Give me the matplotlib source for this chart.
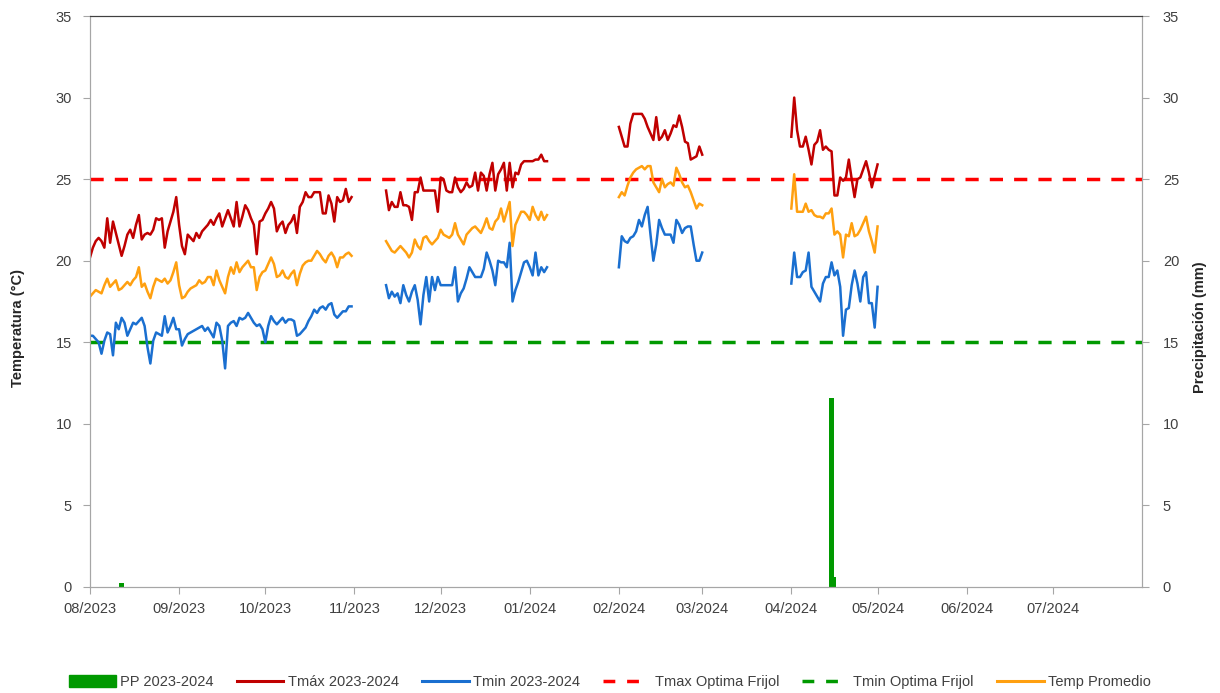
import pandas as pd
import matplotlib
matplotlib.use("Agg")
import matplotlib.pyplot as plt
import matplotlib.dates as mdates
from matplotlib.patches import Patch
from matplotlib.lines import Line2D

plt.rcParams['font.family'] = ['Liberation Sans', 'DejaVu Sans']

# start dates of each block of daily records
seg_starts = ['2023-08-01', '2023-11-12', '2024-02-01', '2024-04-01']

tmax1 = [20.2, 20.8, 21.2, 21.4, 21.2, 20.8, 22.6, 21.1, 22.4, 21.7, 21.0, 20.3, 20.9, 21.6, 21.9, 21.4,
         22.2, 22.8, 21.3, 21.6, 21.7, 21.6, 21.9, 22.6, 22.5, 22.6, 20.8, 21.8, 22.4, 23.0, 23.9, 22.2,
         20.9, 20.4, 21.6, 21.4, 21.2, 21.7, 21.4, 21.8, 22.0, 22.2, 22.5, 22.2, 22.6, 22.9, 22.1, 22.6,
         23.1, 22.6, 22.1, 23.6, 22.1, 22.7, 23.4, 23.1, 22.6, 22.2, 20.4, 22.4, 22.5, 22.9, 23.2, 23.6,
         23.2, 21.8, 22.2, 22.4, 21.7, 22.2, 22.4, 22.8, 21.7, 23.3, 23.6, 24.2, 23.9, 23.9, 24.2, 24.2,
         24.2, 22.9, 22.9, 24.0, 23.5, 22.4, 23.9, 23.6, 23.7, 24.4, 23.6, 23.9]
tprom1 = [17.8, 18.0, 18.2, 18.1, 18.0, 18.5, 18.9, 18.4, 18.6, 18.8, 18.2, 18.3, 18.5, 18.7, 18.5, 18.8,
          19.0, 19.6, 18.4, 18.6, 18.1, 17.7, 18.4, 18.9, 18.8, 18.7, 18.9, 18.6, 18.8, 19.3, 19.9, 18.5,
          17.7, 17.8, 18.1, 18.3, 18.4, 18.5, 18.8, 18.6, 18.7, 19.0, 19.0, 18.5, 19.4, 18.8, 18.4, 18.0,
          19.0, 19.6, 19.2, 19.9, 19.3, 19.6, 19.8, 20.0, 19.6, 19.6, 18.2, 19.0, 19.3, 19.4, 19.8, 20.2,
          19.8, 19.0, 19.1, 19.4, 19.0, 18.9, 19.2, 19.4, 18.5, 19.2, 19.7, 19.9, 20.0, 20.0, 20.3, 20.6,
          20.4, 20.1, 19.9, 20.3, 20.5, 20.2, 19.6, 20.2, 20.2, 20.4, 20.5, 20.3]
tmin1 = [15.4, 15.4, 15.2, 15.0, 14.3, 15.1, 15.6, 15.5, 14.2, 16.2, 15.8, 16.5, 16.2, 15.4, 15.8, 16.2,
         16.1, 16.3, 16.5, 16.0, 14.7, 13.7, 15.1, 15.6, 15.5, 15.4, 16.6, 15.6, 16.0, 16.5, 15.8, 15.8,
         14.8, 15.2, 15.5, 15.6, 15.7, 15.8, 15.9, 16.0, 15.7, 15.9, 15.6, 15.3, 16.2, 16.0, 15.1, 13.4,
         16.0, 16.2, 16.3, 16.0, 16.5, 16.4, 16.5, 16.8, 16.5, 16.2, 16.0, 16.1, 15.8, 15.0, 16.0, 16.6,
         16.3, 16.1, 16.3, 16.5, 16.2, 16.4, 16.4, 16.3, 15.4, 15.5, 15.7, 15.9, 16.3, 16.6, 17.0, 16.8,
         17.1, 17.2, 17.0, 17.3, 17.4, 16.7, 16.5, 16.7, 16.9, 16.9, 17.2, 17.2]

tmax2 = [24.3, 23.1, 23.6, 23.3, 23.3, 24.2, 23.4, 23.4, 23.3, 22.5, 24.2, 24.2, 25.1, 24.3, 24.3, 24.3,
         24.3, 24.3, 23.0, 25.1, 25.0, 24.3, 24.2, 24.2, 25.1, 24.5, 24.2, 24.4, 24.8, 24.5, 24.6, 25.4,
         24.3, 25.4, 25.2, 24.3, 25.3, 26.0, 24.3, 25.3, 25.6, 26.0, 24.3, 26.0, 24.5, 25.4, 25.3, 25.9,
         26.1, 26.1, 26.1, 26.1, 26.2, 26.2, 26.5, 26.1, 26.1]
tprom2 = [21.2, 20.9, 20.6, 20.5, 20.7, 20.9, 20.7, 20.5, 20.2, 20.5, 21.3, 20.9, 20.7, 21.4, 21.5, 21.2,
          21.0, 21.2, 21.4, 21.9, 21.6, 21.5, 21.4, 21.6, 22.3, 21.6, 21.3, 21.0, 21.6, 21.8, 22.0, 22.1,
          21.9, 21.7, 22.1, 22.6, 22.0, 21.9, 22.4, 22.6, 23.2, 22.4, 23.0, 23.6, 20.9, 22.2, 22.6, 23.0,
          23.0, 22.8, 22.5, 23.3, 22.8, 22.5, 23.0, 22.5, 22.8]
tmin2 = [18.5, 17.7, 18.1, 17.8, 18.0, 17.4, 18.5, 17.9, 17.5, 18.1, 18.5, 17.6, 16.1, 17.9, 19.0, 17.5,
         19.0, 18.2, 19.0, 18.5, 18.5, 18.5, 18.5, 18.5, 19.6, 17.5, 18.0, 18.3, 18.9, 19.6, 19.3, 19.0,
         19.0, 19.0, 19.5, 20.5, 20.0, 19.4, 18.5, 20.0, 19.9, 19.9, 19.6, 21.1, 17.5, 18.2, 18.7, 19.3,
         19.9, 20.0, 19.6, 19.1, 20.5, 19.1, 19.6, 19.3, 19.6]

tmax3 = [28.2, 27.6, 27.0, 27.0, 28.4, 29.0, 29.0, 29.0, 29.0, 28.7, 28.2, 27.8, 27.4, 28.8, 27.4, 27.6,
         28.0, 27.4, 27.8, 28.3, 28.2, 28.9, 28.2, 27.3, 27.2, 26.2, 26.3, 26.4, 27.0, 26.5]
tprom3 = [23.9, 24.2, 24.0, 24.6, 25.1, 25.4, 25.6, 25.7, 25.8, 25.6, 25.8, 25.8, 24.8, 24.5, 24.2, 25.0,
          24.5, 24.7, 24.8, 24.6, 25.7, 25.3, 24.8, 24.5, 24.6, 24.2, 23.7, 23.2, 23.5, 23.4]
tmin3 = [19.6, 21.5, 21.2, 21.1, 21.4, 21.5, 21.8, 22.5, 22.1, 22.8, 23.3, 21.6, 20.0, 21.0, 22.5, 22.0,
         21.6, 21.6, 21.6, 21.1, 22.5, 22.2, 21.7, 22.0, 22.1, 22.1, 21.0, 20.0, 20.0, 20.5]

tmax4 = [27.6, 30.0, 28.0, 27.0, 27.0, 27.6, 26.8, 25.9, 27.1, 27.3, 28.0, 26.8, 27.0, 26.8, 26.7, 24.0,
         24.0, 25.1, 24.9, 25.1, 26.2, 25.0, 23.9, 25.0, 25.1, 25.6, 26.1, 25.4, 24.5, 25.2, 25.9]
tprom4 = [23.2, 25.3, 23.0, 23.0, 23.0, 23.5, 23.0, 23.1, 22.8, 22.7, 22.7, 22.6, 22.9, 22.9, 23.2, 21.6,
          21.8, 21.6, 20.2, 21.6, 21.5, 22.3, 21.5, 21.6, 21.9, 22.3, 22.7, 21.8, 21.2, 20.5, 22.1]
tmin4 = [18.6, 20.5, 19.0, 19.0, 19.3, 19.4, 20.5, 18.4, 18.1, 17.8, 17.5, 18.6, 19.0, 19.0, 19.9, 19.1,
         19.4, 18.4, 15.4, 17.0, 17.1, 18.5, 19.4, 18.6, 17.5, 19.0, 19.3, 17.4, 17.4, 15.9, 18.4]

pp_dates = ['2023-08-11', '2024-04-14', '2024-04-15']
pp_values = [0.25, 11.6, 0.6]

tmax_opt = 25
tmin_opt = 15

full_idx = pd.date_range('2023-08-01', '2024-07-31', freq='D')


def build(blocks):
    parts = []
    for start, vals in zip(seg_starts, blocks):
        parts.append(pd.Series(vals, index=pd.date_range(start, periods=len(vals), freq='D')))
    return pd.concat(parts).reindex(full_idx)


tmax = build([tmax1, tmax2, tmax3, tmax4])
tmin = build([tmin1, tmin2, tmin3, tmin4])
tprom = build([tprom1, tprom2, tprom3, tprom4])

c_tmax = '#C00000'
c_tmin = '#1A6FD0'
c_prom = '#FFA010'
c_green = '#009900'

fig = plt.figure(figsize=(12.2, 6.93), dpi=100)
ax = fig.add_axes([90 / 1220, 1 - 587 / 693, 1052 / 1220, 571 / 693])
ax2 = ax.twinx()
ax.set_zorder(ax2.get_zorder() + 1)
ax.patch.set_visible(False)

ax2.bar(pd.to_datetime(pp_dates), pp_values, width=1.7, align='edge', color=c_green)

ax.axhline(tmax_opt, color='#FF0000', lw=2.5, dashes=(3.8, 3.2))
ax.axhline(tmin_opt, color=c_green, lw=2.5, dashes=(3.8, 3.2))
ax.plot(tmax.index, tmax.values, color=c_tmax, lw=1.8)
ax.plot(tmin.index, tmin.values, color=c_tmin, lw=1.8)
ax.plot(tprom.index, tprom.values, color=c_prom, lw=1.8)

for a in (ax, ax2):
    a.set_ylim(0, 35)
    a.set_yticks(range(0, 36, 5))
    a.set_xlim(pd.Timestamp('2023-08-01'), pd.Timestamp('2024-08-01'))
    for s in ('left', 'right', 'bottom'):
        a.spines[s].set_color('#A6A6A6')
    a.spines['top'].set_color('#404040')
    a.tick_params(axis='both', colors='#A6A6A6', labelcolor='#404040', labelsize=10.5, length=5)

ax.set_xticks(pd.date_range('2023-08-01', '2024-07-01', freq='MS'))
ax.xaxis.set_major_formatter(mdates.DateFormatter('%m/%Y'))
ax.tick_params(axis='y', pad=8)
ax.tick_params(axis='x', pad=6)
ax2.tick_params(axis='y', pad=10)

fig.text(18 / 1220, 1 - 328 / 693, 'Temperatura (°C)', rotation=90, ha='center', va='center',
         fontsize=10.5, fontweight='bold', color='#262626')
fig.text(1200 / 1220, 1 - 327 / 693, 'Precipitación (mm)', rotation=90, ha='center', va='center',
         fontsize=10.5, fontweight='bold', color='#262626')

handles = [
    Patch(color=c_green),
    Line2D([], [], color=c_tmax, lw=2.2),
    Line2D([], [], color=c_tmin, lw=2.2),
    Line2D([], [], color='#FF0000', lw=2.5, dashes=(3.4, 3.4)),
    Line2D([], [], color=c_green, lw=2.5, dashes=(3.4, 3.4)),
    Line2D([], [], color=c_prom, lw=2.2),
]
labels = ['PP 2023-2024', 'Tmáx 2023-2024', 'Tmin 2023-2024', 'Tmax Optima Frijol',
          'Tmin Optima Frijol', 'Temp Promedio']
fig.legend(handles, labels, loc='center', bbox_to_anchor=(0.5, 1 - 682 / 693), ncol=6, frameon=False,
           fontsize=10.5, handlelength=3.2, handleheight=0.9, handletextpad=0.3, columnspacing=1.6,
           labelcolor='#404040')

fig.savefig('out.png', dpi=100)
